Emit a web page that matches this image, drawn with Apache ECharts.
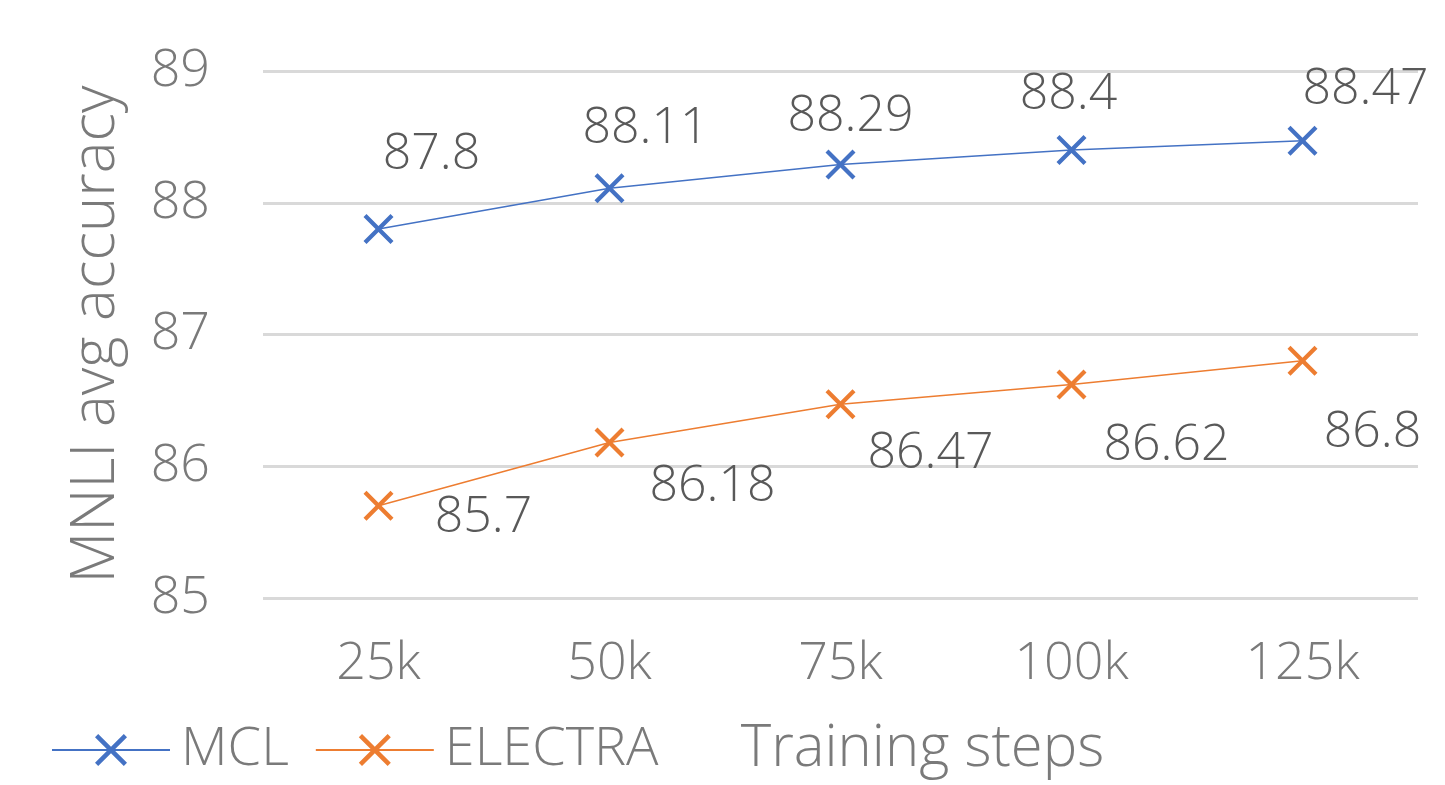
<!DOCTYPE html>
<html>
<head>
<meta charset="utf-8">
<script src="https://cdn.jsdelivr.net/npm/echarts@6/dist/echarts.min.js"></script>
<style>
  html, body { margin: 0; padding: 0; background: #fff; }
  #chart { width: 1445px; height: 785px; }
</style>
</head>
<body>
<div id="chart"></div>
<script>
const categories = ['25k', '50k', '75k', '100k', '125k'];
const mclValues = [87.8, 88.11, 88.29, 88.4, 88.47];
const electraValues = [85.7, 86.18, 86.47, 86.62, 86.8];
const yTicks = [85, 86, 87, 88, 89];

// label placement (pixel offsets from the marker), like the hand-moved labels in the original
const mclLabelOffsets = [[53, -74], [36, -60], [10, -48], [-3, -55], [63, -51]];
const electraLabelOffsets = [[105, 12], [103, 44], [90, 49], [95, 61], [70, 72]];

const FONT = '"Open Sans", "Noto Sans", sans-serif';
const crossSymbol = 'path://M0,1L1,0L5,4L9,0L10,1L6,5L10,9L9,10L5,6L1,10L0,9L4,5Z';

const withLabels = (values, offsets) =>
  values.map((v, i) => ({
    value: v,
    label: { offset: offsets[i] },
  }));

const makeSeries = (name, color, values, offsets) => ({
  name: name,
  type: 'line',
  data: withLabels(values, offsets),
  symbol: crossSymbol,
  symbolSize: 30,
  lineStyle: { color: color, width: 1.5 },
  itemStyle: { color: color },
  label: {
    show: true,
    position: 'inside',
    color: '#595959',
    fontSize: 50,
    fontFamily: FONT,
    fontWeight: 300,
  },
  emphasis: { disabled: true },
  animation: false,
});

const chart = echarts.init(document.getElementById('chart'));
const option = {
  backgroundColor: '#fff',
  grid: { left: 263, right: 27, top: 71, bottom: 187 },
  legend: {
    left: 46,
    top: 718,
    itemWidth: 118,
    itemHeight: 40,
    itemGap: 26,
    textStyle: {
      color: '#7a7a7a',
      fontSize: 54,
      fontFamily: FONT,
      fontWeight: 300,
      padding: [0, 0, 0, 6],
    },
    data: ['MCL', 'ELECTRA'],
  },
  xAxis: {
    type: 'category',
    data: categories,
    boundaryGap: true,
    axisLine: { show: false },
    axisTick: { show: false },
    axisLabel: {
      color: '#7a7a7a',
      fontSize: 52,
      fontFamily: FONT,
      fontWeight: 300,
      margin: 40,
    },
    name: 'Training steps',
    nameLocation: 'middle',
    nameGap: 122,
    nameTextStyle: {
      color: '#7a7a7a',
      fontSize: 58,
      fontFamily: FONT,
      fontWeight: 300,
      padding: [0, 0, 0, 164],
    },
  },
  yAxis: {
    type: 'value',
    min: yTicks[0],
    max: yTicks[yTicks.length - 1],
    interval: 1,
    axisLine: { show: false },
    axisTick: { show: false },
    axisLabel: {
      color: '#7a7a7a',
      fontSize: 52,
      fontFamily: FONT,
      fontWeight: 300,
      margin: 53,
    },
    splitLine: { lineStyle: { color: '#d9d9d9', width: 3 } },
    name: 'MNLI avg accuracy',
    nameLocation: 'middle',
    nameGap: 136,
    nameTextStyle: {
      color: '#7a7a7a',
      fontSize: 60,
      fontFamily: FONT,
      fontWeight: 300,
    },
  },
  series: [
    makeSeries('MCL', '#4472c4', mclValues, mclLabelOffsets),
    makeSeries('ELECTRA', '#ed7d31', electraValues, electraLabelOffsets),
  ],
};
chart.setOption(option);
</script>
</body>
</html>
